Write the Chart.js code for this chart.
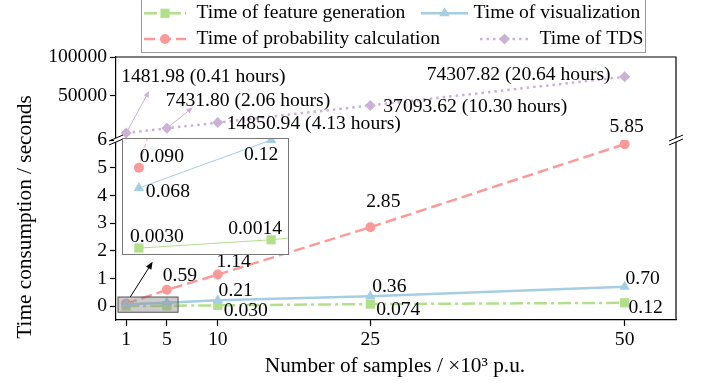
<!DOCTYPE html>
<html><head><meta charset="utf-8">
<script src="https://cdn.jsdelivr.net/npm/chart.js@4/dist/chart.umd.min.js"></script>
<style>
html,body{margin:0;padding:0;background:#fff;}
#wrap{position:relative;width:702px;height:383px;overflow:hidden;}
#main{position:absolute;left:0;top:0;}
#inset{position:absolute;left:122px;top:138px;}
</style></head><body>
<div id="wrap">
<canvas id="main" width="702" height="383"></canvas>
<canvas id="inset" width="167" height="117"></canvas>
</div>
<script>
// ---- data ----
const samples = [1, 5, 10, 25, 50];
const featureTime = [0.0030, 0.012, 0.030, 0.074, 0.12];
const visualTime = [0.068, 0.12, 0.21, 0.36, 0.70];
const probTime = [0.090, 0.59, 1.14, 2.85, 5.85];
const tdsTime = [1481.98, 7431.80, 14850.94, 37093.62, 74307.82];
const tdsHours = [0.41, 2.06, 4.13, 10.30, 20.64];
const featureLabels = ['0.0030', '0.0014', '0.030', '0.074', '0.12'];
const visualLabels = ['0.068', '0.12', '0.21', '0.36', '0.70'];
const probLabels = ['0.090', '0.59', '1.14', '2.85', '5.85'];
const seriesNames = ['Time of feature generation', 'Time of visualization', 'Time of probability calculation', 'Time of TDS'];
const xTicks = [1, 5, 10, 25, 50];
const yLowTicks = [0, 1, 2, 3, 4, 5, 6];
const yHighTicks = [50000, 100000];
const xAxisTitle = 'Number of samples / \u00d710\u00b3 p.u.';
const yAxisTitle = 'Time consumption / seconds';
const zoomRegion = {x0: 0.2, x1: 6.1, y0: -0.22, y1: 0.33};

// ---- style ----
const FONT = "'Liberation Serif', 'Times New Roman', serif";
const FS = 19.6;
const TFS = 21.3;
const C = {feat: '#B2DF8A', vis: '#A6CEE3', prob: '#FB9A99', tds: '#CAB2D6'};
const styles = [
  {color: C.feat, dash: [13, 4, 3, 4], point: 'rect', r: 6.5},
  {color: C.vis, dash: [], point: 'triangle', r: 6},
  {color: C.prob, dash: [11, 5], point: 'circle', r: 5},
  {color: C.tds, dash: [2.5, 4], point: 'rectRot', r: 5.5}
];
const pts = arr => samples.map((x, i) => ({x, y: arr[i]}));
function ds(idx, arr, axis, lw, order, dash) {
  const s = styles[idx];
  return {label: seriesNames[idx], data: pts(arr), yAxisID: axis, borderColor: s.color, backgroundColor: s.color,
    pointBackgroundColor: s.color, pointBorderColor: s.color, pointBorderWidth: 0, borderWidth: lw,
    borderDash: dash || s.dash, pointStyle: s.point, pointRadius: s.r, tension: 0, order: order};
}

function arrow(ctx, x0, y0, x1, y1, color, lw, head) {
  ctx.save();
  ctx.strokeStyle = color; ctx.fillStyle = color; ctx.lineWidth = lw; ctx.setLineDash([]);
  const a = Math.atan2(y1 - y0, x1 - x0);
  ctx.beginPath(); ctx.moveTo(x0, y0); ctx.lineTo(x1 - Math.cos(a) * head * 0.8, y1 - Math.sin(a) * head * 0.8); ctx.stroke();
  ctx.beginPath();
  ctx.moveTo(x1, y1);
  ctx.lineTo(x1 - head * Math.cos(a - 0.4), y1 - head * Math.sin(a - 0.4));
  ctx.lineTo(x1 - head * Math.cos(a + 0.4), y1 - head * Math.sin(a + 0.4));
  ctx.closePath(); ctx.fill();
  ctx.restore();
}
function text(ctx, str, x, y, align) {
  ctx.textAlign = align || 'center'; ctx.textBaseline = 'middle';
  ctx.fillText(str, x, y);
}

// label offsets (pixels, relative to point)
const mainLabelOffsets = {
  prob: {1: [13, -14], 2: [16, -13], 3: [13, -25], 4: [2, -17]},
  vis: {2: [18, -9], 3: [19, -9], 4: [18, -8]},
  feat: {2: [28, 6], 3: [28, 6], 4: [21, 5]}
};
const tdsLabelPlace = [
  {dx: -5, dy: -56, align: 'left', arrow: [23, -42]},
  {dx: -1, dy: -27, align: 'left', arrow: [26, -21]},
  {dx: 9, dy: 1, align: 'left'},
  {dx: 13, dy: 1, align: 'left'},
  {dx: -14, dy: -2, align: 'right'}
];

const decoPlugin = {
  id: 'deco',
  afterDatasetsDraw(chart) {
    const ctx = chart.ctx, xs = chart.scales.x, yl = chart.scales.yLow;
    ctx.save();
    const rx0 = xs.getPixelForValue(zoomRegion.x0), rx1 = xs.getPixelForValue(zoomRegion.x1);
    const ry0 = yl.getPixelForValue(zoomRegion.y1), ry1 = yl.getPixelForValue(zoomRegion.y0);
    ctx.fillStyle = 'rgba(140,140,140,0.45)';
    ctx.fillRect(rx0, ry0, rx1 - rx0, ry1 - ry0);
    ctx.strokeStyle = '#555'; ctx.lineWidth = 1;
    ctx.strokeRect(rx0, ry0, rx1 - rx0, ry1 - ry0);
    arrow(ctx, xs.getPixelForValue(1.4), yl.getPixelForValue(0.33), xs.getPixelForValue(3.6), yl.getPixelForValue(1.6), '#000', 1, 8);
    ctx.restore();
  },
  afterDraw(chart) {
    const ctx = chart.ctx, xs = chart.scales.x, yl = chart.scales.yLow, yh = chart.scales.yTop;
    const ca = chart.chartArea;
    ctx.save();
    ctx.strokeStyle = '#000'; ctx.lineWidth = 1.2; ctx.setLineDash([]);
    ctx.beginPath();
    ctx.moveTo(ca.left, ca.top); ctx.lineTo(ca.right, ca.top); ctx.lineTo(ca.right, ca.bottom);
    ctx.stroke();
    // break marks
    const by = yl.top;
    [ca.left, ca.right].forEach(bx => {
      ctx.fillStyle = '#fff';
      ctx.fillRect(bx - 2, by - 2, 4, 4);
      ctx.strokeStyle = '#000'; ctx.lineWidth = 1;
      [-2, 2].forEach(o => {
        ctx.beginPath(); ctx.moveTo(bx - 7, by + o + 3); ctx.lineTo(bx + 7, by + o - 3); ctx.stroke();
      });
    });
    // data labels
    ctx.fillStyle = '#000'; ctx.font = FS + 'px ' + FONT;
    const put = (arr, labels, offs) => {
      Object.keys(offs).forEach(k => {
        const i = +k;
        text(ctx, labels[i], xs.getPixelForValue(samples[i]) + offs[k][0], yl.getPixelForValue(arr[i]) + offs[k][1]);
      });
    };
    put(probTime, probLabels, mainLabelOffsets.prob);
    put(visualTime, visualLabels, mainLabelOffsets.vis);
    put(featureTime, featureLabels, mainLabelOffsets.feat);
    // TDS annotations
    tdsTime.forEach((v, i) => {
      const px = xs.getPixelForValue(samples[i]), py = yh.getPixelForValue(v);
      const p = tdsLabelPlace[i];
      if (p.arrow) arrow(ctx, px, py, px + p.arrow[0], py + p.arrow[1], C.tds, 1, 7);
      ctx.fillStyle = '#000';
      text(ctx, v.toFixed(2) + ' (' + tdsHours[i].toFixed(2) + ' hours)', px + p.dx, py + p.dy, p.align);
    });
    // axis titles
    ctx.font = TFS + 'px ' + FONT;
    text(ctx, xAxisTitle, 395, 366);
    ctx.save(); ctx.translate(25, 217); ctx.rotate(-Math.PI / 2); text(ctx, yAxisTitle, 0, 0); ctx.restore();
    // legend
    ctx.font = FS + 'px ' + FONT;
    ctx.strokeStyle = '#999'; ctx.lineWidth = 1;
    ctx.strokeRect(141.5, -1, 504, 53.5);
    const entries = [
      {i: 0, x0: 144, x1: 186, tx: 196.5, y: 13.3},
      {i: 1, x0: 421, x1: 468, tx: 473.5, y: 13.3},
      {i: 2, x0: 144, x1: 186, tx: 196.5, y: 39},
      {i: 3, x0: 480, x1: 529, tx: 539.5, y: 39}
    ];
    entries.forEach(e => {
      const s = styles[e.i];
      ctx.save();
      ctx.strokeStyle = s.color; ctx.lineWidth = 2.5; ctx.setLineDash(s.dash);
      ctx.beginPath(); ctx.moveTo(e.x0, e.y); ctx.lineTo(e.x1, e.y); ctx.stroke();
      ctx.setLineDash([]);
      ctx.fillStyle = s.color;
      Chart.helpers.drawPoint(ctx, {pointStyle: s.point, radius: s.r, rotation: 0, borderWidth: 0}, (e.x0 + e.x1) / 2, e.y);
      ctx.restore();
      ctx.fillStyle = '#000';
      text(ctx, seriesNames[e.i], e.tx, e.y, 'left');
    });
    ctx.restore();
  }
};

const tickFont = {family: FONT, size: FS};
new Chart(document.getElementById('main'), {
  type: 'line',
  data: {datasets: [
    ds(0, featureTime, 'yLow', 2.5, 4),
    ds(2, probTime, 'yLow', 2.5, 3),
    ds(1, visualTime, 'yLow', 2.5, 2),
    ds(3, tdsTime, 'yTop', 2.5, 1)
  ]},
  options: {
    responsive: false, animation: false, devicePixelRatio: 1,
    layout: {padding: {left: 0, right: 26, top: 57, bottom: 0}},
    plugins: {legend: {display: false}, tooltip: {enabled: false}},
    scales: {
      x: {type: 'linear', min: 0, max: 55.05,
        afterBuildTicks: s => { s.ticks = xTicks.map(v => ({value: v})); },
        afterFit: s => { s.height = 63; },
        grid: {drawOnChartArea: false, drawTicks: true, tickLength: 6, color: '#000', tickWidth: 1.2},
        border: {display: true, color: '#000', width: 1.2},
        ticks: {font: tickFont, color: '#000', padding: 2, maxRotation: 0, autoSkip: false}},
      yLow: {type: 'linear', position: 'left', stack: 'y', stackWeight: 180, min: -0.5, max: 6,
        afterBuildTicks: s => { s.ticks = yLowTicks.map(v => ({value: v})); },
        afterFit: s => { s.width = 116; },
        grid: {drawOnChartArea: false, drawTicks: true, tickLength: 6, color: '#000', tickWidth: 1.2},
        border: {display: true, color: '#000', width: 1.2},
        ticks: {font: tickFont, color: '#000', padding: 3, autoSkip: false}},
      yTop: {type: 'linear', position: 'left', stack: 'y', stackWeight: 83, min: -7700, max: 100000,
        afterBuildTicks: s => { s.ticks = yHighTicks.map(v => ({value: v})); },
        afterFit: s => { s.width = 116; },
        grid: {drawOnChartArea: false, drawTicks: true, tickLength: 6, color: '#000', tickWidth: 1.2},
        border: {display: true, color: '#000', width: 1.2},
        ticks: {font: tickFont, color: '#000', padding: 3, autoSkip: false, callback: v => String(v)}}
    }
  },
  plugins: [decoPlugin]
});

// ---- inset ----
const insetLabelOffsets = [
  {arr: probTime, labels: probLabels, idx: [[0, 23, -11]]},
  {arr: visualTime, labels: visualLabels, idx: [[0, 29, 4], [1, -10, 15]]},
  {arr: featureTime, labels: featureLabels, idx: [[0, 18, -11], [1, -16, -11]]}
];
const insetPlugin = {
  id: 'insetDeco',
  beforeDraw(chart) {
    const ctx = chart.ctx;
    ctx.save(); ctx.fillStyle = '#fff'; ctx.fillRect(0, 0, chart.width, chart.height); ctx.restore();
  },
  afterDraw(chart) {
    const ctx = chart.ctx, xs = chart.scales.x, ys = chart.scales.y;
    ctx.save();
    ctx.fillStyle = '#000'; ctx.font = FS + 'px ' + FONT;
    insetLabelOffsets.forEach(g => g.idx.forEach(([i, dx, dy]) => {
      text(ctx, g.labels[i], xs.getPixelForValue(samples[i]) + dx, ys.getPixelForValue(g.arr[i]) + dy);
    }));
    ctx.strokeStyle = '#777'; ctx.lineWidth = 1;
    ctx.strokeRect(0.5, 0.5, chart.width - 1, chart.height - 1);
    ctx.restore();
  }
};
new Chart(document.getElementById('inset'), {
  type: 'line',
  data: {datasets: [
    ds(0, featureTime, 'y', 1, 3, []),
    ds(2, probTime, 'y', 1, 2, [4, 3]),
    ds(1, visualTime, 'y', 1, 1)
  ]},
  options: {
    responsive: false, animation: false, devicePixelRatio: 1,
    layout: {padding: 0, autoPadding: false},
    plugins: {legend: {display: false}, tooltip: {enabled: false}},
    scales: {
      x: {type: 'linear', display: false, min: 0.489, max: 5.541},
      y: {type: 'linear', display: false, min: -0.0045, max: 0.1222}
    }
  },
  plugins: [insetPlugin]
});
</script>
</body></html>
